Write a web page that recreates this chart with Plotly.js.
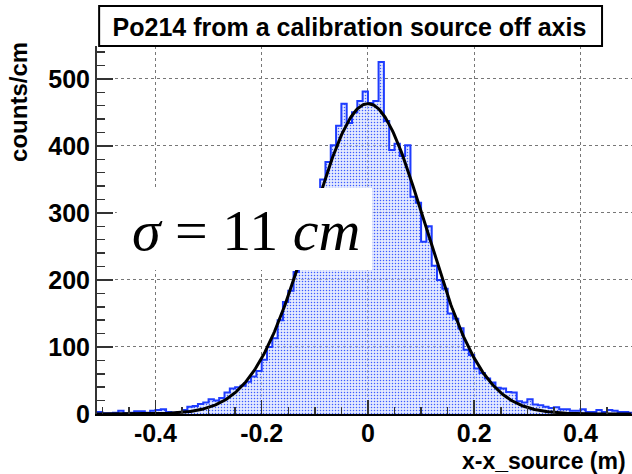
<!DOCTYPE html>
<html>
<head>
<meta charset="utf-8">
<script src="https://cdn.plot.ly/plotly-3.0.1.min.js"></script>
<style>html,body{margin:0;padding:0;background:#fff;}#chart{width:632px;height:474px;}</style>
</head>
<body>
<div id="chart"></div>
<script>
// Histogram: 1 cm bins starting at -0.51 m
const histMin = -0.51;
const binWidth = 0.01;
const counts = [
  3, 1, 1, 2, 5, 1, 2, 4, 4, 2,
  5, 6, 7, 3, 2, 3, 6, 11, 12, 15,
  17, 22, 20, 24, 32, 38, 40, 42, 48, 56,
  64, 81, 100, 113, 140, 167, 184, 212, 240, 262,
  290, 318, 350, 376, 401, 430, 463, 434, 450, 467,
  481, 464, 467, 525, 437, 394, 403, 385, 401, 324,
  315, 257, 280, 221, 200, 187, 150, 142, 128, 96,
  88, 68, 61, 53, 47, 39, 38, 33, 32, 19,
  17, 22, 14, 13, 11, 9, 10, 7, 7, 5,
  5, 7, 3, 3, 6, 3, 6, 5, 3, 3,
  2
];
// Gaussian fit parameters (as shown: sigma ~ 11 cm)
const fitAmplitude = 463;
const fitMean = 0.0;
const fitSigma = 0.108;

const xTickVals = [-0.4, -0.2, 0, 0.2, 0.4];
const xTickText = ['-0.4', '-0.2', '0', '0.2', '0.4'];
const yTickVals = [0, 100, 200, 300, 400, 500];
const yTickText = ['0', '100', '200', '300', '400', '500'];

const xRange = [-0.51, 0.497];
const yRange = [0, 549];

// step outline
const stepX = [], stepY = [];
for (let i = 0; i < counts.length; i++) {
  stepX.push(histMin + i * binWidth);
  stepY.push(counts[i]);
}
stepX.push(histMin + counts.length * binWidth);
stepY.push(counts[counts.length - 1]);

// fit function curve
const fitX = [], fitY = [];
for (let x = xRange[0]; x <= xRange[1] + 1e-9; x += 0.002) {
  fitX.push(x);
  fitY.push(fitAmplitude * Math.exp(-Math.pow(x - fitMean, 2) / (2 * fitSigma * fitSigma)));
}

const sans = 'Liberation Sans, Arial, Helvetica, sans-serif';
const tickFont = {family: sans, size: 25, color: '#000', weight: 'bold'};

const traces = [
  {
    type: 'scatter', mode: 'lines', x: stepX, y: stepY,
    line: {shape: 'hv', color: 'rgb(30,60,255)', width: 2},
    fill: 'tozeroy',
    fillcolor: 'rgba(200,212,255,0.55)',
    fillpattern: {shape: '.', fgcolor: 'rgb(60,90,255)', bgcolor: 'rgba(205,216,255,0.55)', size: 3, solidity: 0.2},
    hoverinfo: 'skip', showlegend: false
  },
  {
    type: 'scatter', mode: 'lines', x: fitX, y: fitY,
    line: {color: '#000', width: 3}, hoverinfo: 'skip', showlegend: false
  }
];

const layout = {
  width: 632, height: 474,
  margin: {l: 97, r: 0, t: 46, b: 60},
  paper_bgcolor: '#fff', plot_bgcolor: '#fff',
  showlegend: false,
  title: {
    text: '<b>Po214 from a calibration source off axis</b>',
    font: {family: sans, size: 25, color: '#000'},
    xref: 'container', x: 0.553, xanchor: 'center',
    yref: 'container', y: 0.943, yanchor: 'middle'
  },
  xaxis: {
    range: xRange, showline: true, linecolor: '#000', linewidth: 2,
    ticks: 'inside', ticklen: 14, tickwidth: 1.5, tickcolor: '#333',
    tickvals: xTickVals, ticktext: xTickText,
    tickfont: tickFont, ticklabelstandoff: -4,
    showgrid: true, gridcolor: '#777', griddash: 'dot', gridwidth: 1,
    zeroline: false,
    minor: {ticks: 'inside', ticklen: 7, tickwidth: 1.5, tickcolor: '#333', dtick: 0.05, tick0: 0, showgrid: false}
  },
  yaxis: {
    range: yRange, showline: true, linecolor: '#333', linewidth: 2,
    ticks: 'inside', ticklen: 16, tickwidth: 1.5, tickcolor: '#333',
    tickvals: yTickVals, ticktext: yTickText,
    tickfont: tickFont,
    showgrid: true, gridcolor: '#777', griddash: 'dot', gridwidth: 1,
    zeroline: false,
    minor: {ticks: 'inside', ticklen: 8, tickwidth: 1.5, tickcolor: '#333', dtick: 20, tick0: 0, showgrid: false}
  },
  shapes: [
    // title pave
    {type: 'rect', xref: 'paper', yref: 'paper', x0: 0.004, x1: 0.944, y0: 1.0, y1: 1.1087,
     fillcolor: '#fff', line: {color: '#000', width: 2}, layer: 'above'},
    // white text box
    {type: 'rect', xref: 'paper', yref: 'paper', x0: 0.037, x1: 0.514, y0: 0.391, y1: 0.614,
     fillcolor: '#fff', line: {width: 0}, layer: 'above'}
  ],
  annotations: [
    {text: '<i>σ</i> = 11 <i>cm</i>', xref: 'paper', yref: 'paper', x: 0.062, y: 0.50,
     xanchor: 'left', yanchor: 'middle', showarrow: false,
     font: {family: 'Liberation Serif, Times New Roman, serif', size: 58, color: '#000'}},
    {text: '<b>counts/cm</b>', xref: 'paper', yref: 'paper', x: -0.148, y: 1.016,
     xanchor: 'center', yanchor: 'top', textangle: -90, showarrow: false,
     font: {family: sans, size: 24, color: '#000'}},
    {text: '<b>x-x_source (m)</b>', xref: 'paper', yref: 'paper', x: 0.993, y: -0.128,
     xanchor: 'right', yanchor: 'middle', showarrow: false,
     font: {family: sans, size: 23, color: '#000'}}
  ]
};

Plotly.newPlot('chart', traces, layout, {staticPlot: true, displayModeBar: false});
</script>
</body>
</html>
